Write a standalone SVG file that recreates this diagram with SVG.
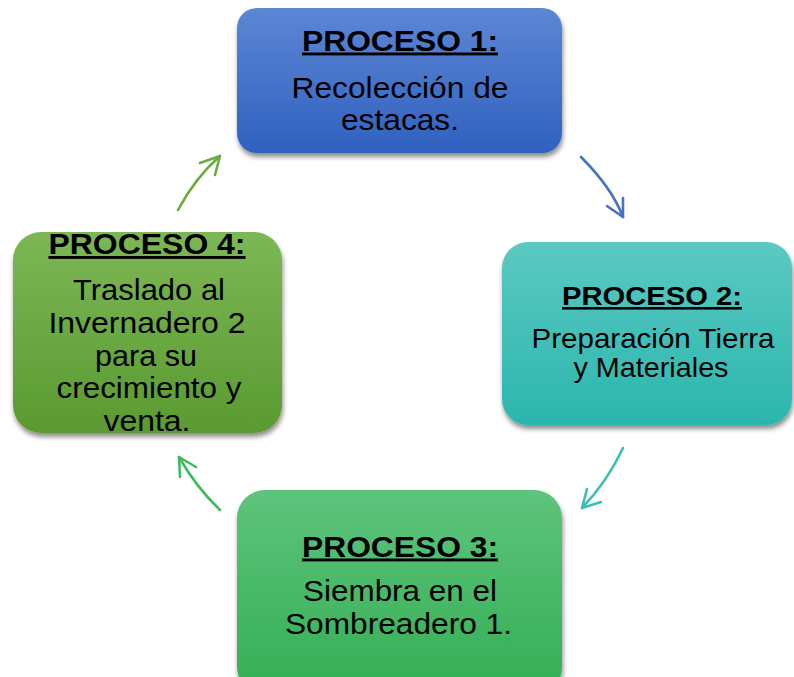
<svg xmlns="http://www.w3.org/2000/svg" width="794" height="677" viewBox="0 0 794 677">
<style>
  text { font-family: "Liberation Sans", Arial, sans-serif; fill: #000; text-anchor: middle; }
  .t { font-weight: bold; text-decoration: underline; }
  .box { filter: url(#sh); }
  .arr { fill: none; stroke-width: 2.6; stroke-linecap: round; stroke-linejoin: round; }
</style>
<defs>
  <filter id="sh" x="-10%" y="-10%" width="125%" height="130%">
    <feGaussianBlur in="SourceAlpha" stdDeviation="2.5"/>
    <feOffset dx="1" dy="4" result="b"/>
    <feComponentTransfer><feFuncA type="linear" slope="0.45"/></feComponentTransfer>
    <feMerge><feMergeNode/><feMergeNode in="SourceGraphic"/></feMerge>
  </filter>
  <linearGradient id="g1" x1="0" y1="0" x2="0" y2="1"><stop offset="0" stop-color="#5d86d4"/><stop offset="1" stop-color="#2f61bf"/></linearGradient>
  <linearGradient id="g2" x1="0" y1="0" x2="0" y2="1"><stop offset="0" stop-color="#5bc9c2"/><stop offset="1" stop-color="#2bb6ad"/></linearGradient>
  <linearGradient id="g3" x1="0" y1="0" x2="0" y2="1"><stop offset="0" stop-color="#5ec47c"/><stop offset="1" stop-color="#33ae54"/></linearGradient>
  <linearGradient id="g4" x1="0" y1="0" x2="0" y2="1"><stop offset="0" stop-color="#7cb755"/><stop offset="1" stop-color="#5b9a31"/></linearGradient>
</defs>
<rect width="794" height="677" fill="#ffffff"/>

<g id="connectors">
  <g stroke="#4472c4" class="arr">
    <path d="M581,157 Q612,188 623,217"/>
    <polyline points="607,206 623,217 623,198"/>
  </g>
  <g stroke="#3cbfb3" class="arr">
    <path d="M623,448 Q607,482 582,508"/>
    <polyline points="587,489 582,508 601,502"/>
  </g>
  <g stroke="#40bb5f" class="arr">
    <path d="M220,510 Q196,487 179,457"/>
    <polyline points="180,477 179,457 196,467"/>
  </g>
  <g stroke="#6aad3c" class="arr">
    <path d="M178,210 Q195,178 220,156"/>
    <polyline points="200,163 220,156 215,175"/>
  </g>
</g>

<g id="proceso1">
  <rect class="box" x="237" y="8" width="325" height="145" rx="20" fill="url(#g1)"/>
  <text class="t" x="400" y="50.5" font-size="29" textLength="196" lengthAdjust="spacingAndGlyphs">PROCESO 1:</text>
  <text x="400" y="98" font-size="30" textLength="217" lengthAdjust="spacingAndGlyphs">Recolección de</text>
  <text x="400" y="130" font-size="30" textLength="118" lengthAdjust="spacingAndGlyphs">estacas.</text>
</g>

<g id="proceso2">
  <rect class="box" x="502" y="242" width="290" height="183" rx="26" fill="url(#g2)"/>
  <text class="t" x="652" y="305" font-size="26" textLength="180" lengthAdjust="spacingAndGlyphs">PROCESO 2:</text>
  <text x="653" y="347.5" font-size="28.5" textLength="243" lengthAdjust="spacingAndGlyphs">Preparación Tierra</text>
  <text x="651" y="376.5" font-size="28.5" textLength="155" lengthAdjust="spacingAndGlyphs">y Materiales</text>
</g>

<g id="proceso3">
  <rect class="box" x="237" y="490" width="325" height="205" rx="28" fill="url(#g3)"/>
  <text class="t" x="400" y="556.5" font-size="29" textLength="196" lengthAdjust="spacingAndGlyphs">PROCESO 3:</text>
  <text x="400" y="601" font-size="29.5" textLength="194" lengthAdjust="spacingAndGlyphs">Siembra en el</text>
  <text x="398.5" y="634" font-size="29.5" textLength="227" lengthAdjust="spacingAndGlyphs">Sombreadero 1.</text>
</g>

<g id="proceso4">
  <rect class="box" x="13" y="232" width="269" height="201" rx="28" fill="url(#g4)"/>
  <text class="t" x="147" y="254" font-size="29" textLength="197" lengthAdjust="spacingAndGlyphs">PROCESO 4:</text>
  <text x="149" y="299.5" font-size="29.5" textLength="152" lengthAdjust="spacingAndGlyphs">Traslado al</text>
  <text x="147" y="333" font-size="29.5" textLength="197" lengthAdjust="spacingAndGlyphs">Invernadero 2</text>
  <text x="146" y="365.5" font-size="29.5" textLength="102" lengthAdjust="spacingAndGlyphs">para su</text>
  <text x="149" y="398" font-size="29.5" textLength="185" lengthAdjust="spacingAndGlyphs">crecimiento y</text>
  <text x="147" y="431" font-size="29.5" textLength="87" lengthAdjust="spacingAndGlyphs">venta.</text>
</g>
</svg>
